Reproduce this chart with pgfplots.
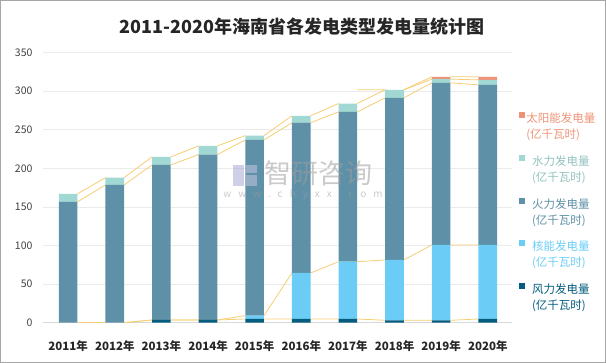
\documentclass[border=0pt]{standalone}
\usepackage{fontspec}
\setmainfont{Noto Sans CJK SC}
\usepackage{pgfplots}
\pgfplotsset{compat=1.18}
\definecolor{cwind}{HTML}{045C7E}
\definecolor{cnuc}{HTML}{6BCDF5}
\definecolor{ctherm}{HTML}{5E90A7}
\definecolor{chydro}{HTML}{A1D8D3}
\definecolor{csolar}{HTML}{EE9377}
\definecolor{yel}{HTML}{F6CD72}
\definecolor{gridgray}{HTML}{EBEBEB}
\definecolor{axisgray}{HTML}{D9D9D9}
\definecolor{ylab}{HTML}{404040}
\definecolor{xlab}{HTML}{262626}
\definecolor{wm}{HTML}{9E9E9E}
\begin{document}
\begin{tikzpicture}
\begin{axis}[at={(0,0)}, anchor=south west, scale only axis,
  width=469pt, height=270.2pt,
  xmin=-0.54, xmax=9.52, ymin=0, ymax=350,
  ytick={0,50,...,350}, xtick={0,...,9},
  xticklabels={2011年,2012年,2013年,2014年,2015年,2016年,2017年,2018年,2019年,2020年},
  axis x line*=bottom, axis y line*=left,
  y axis line style={draw=none},
  x axis line style={draw=axisgray, line width=0.8pt},
  ymajorgrids, grid style={gridgray, line width=0.6pt},
  major tick length=0pt, tick style={draw=none},
  unbounded coords=jump,
  /pgf/number format/assume math mode=true,
  yticklabel style={font=\fontsize{10.5}{10.5}\selectfont, text=ylab, anchor=east, xshift=-7pt},
  xticklabel style={font=\bfseries\fontsize{11.5}{11.5}\selectfont, text=xlab, anchor=base, yshift=-28pt},
]
% series lines (cumulative tops)
\addplot[yel, line width=0.8pt] coordinates {(0.2,0)(0.8,0) (1,nan) (1.2,0)(1.8,3.5) (2,nan) (2.2,3.5)(2.8,3.5) (3,nan) (3.2,3.5)(3.8,4.8) (4,nan) (4.2,4.8)(4.8,4.8) (5,nan) (5.2,4.8)(5.8,4.8) (6,nan) (6.2,4.8)(6.8,3.1) (7,nan) (7.2,3.1)(7.8,3.1) (8,nan) (8.2,3.1)(8.8,4.8)};
\addplot[yel, line width=0.8pt] coordinates {(0.2,0)(0.8,0) (1,nan) (1.2,0)(1.8,3.5) (2,nan) (2.2,3.5)(2.8,3.5) (3,nan) (3.2,3.5)(3.8,9.1) (4,nan) (4.2,9.1)(4.8,64.4) (5,nan) (5.2,64.4)(5.8,79.0) (6,nan) (6.2,79.0)(6.8,81.3) (7,nan) (7.2,81.3)(7.8,100.7) (8,nan) (8.2,100.7)(8.8,100.7)};
\addplot[yel, line width=0.8pt] coordinates {(0.2,156.5)(0.8,178.5) (1,nan) (1.2,178.5)(1.8,204.4) (2,nan) (2.2,204.4)(2.8,217.8) (3,nan) (3.2,217.8)(3.8,236.8) (4,nan) (4.2,236.8)(4.8,259.0) (5,nan) (5.2,259.0)(5.8,273.1) (6,nan) (6.2,273.1)(6.8,291.3) (7,nan) (7.2,291.3)(7.8,310.7) (8,nan) (8.2,310.7)(8.8,308.1)};
\addplot[yel, line width=0.8pt] coordinates {(0.2,166.8)(0.8,188.0) (1,nan) (1.2,188.0)(1.8,214.8) (2,nan) (2.2,214.8)(2.8,229.0) (3,nan) (3.2,229.0)(3.8,242.4) (4,nan) (4.2,242.4)(4.8,268.0) (5,nan) (5.2,268.0)(5.8,283.9) (6,nan) (6.2,283.9)(6.8,301.7) (7,nan) (7.2,301.7)(7.8,315.5) (8,nan) (8.2,315.5)(8.8,314.5)};
\addplot[yel, line width=0.8pt] coordinates {(6.2,301.7)(6.8,301.7) (7,nan) (7.2,301.7)(7.8,318.5) (8,nan) (8.2,318.5)(8.8,318.5)};
\end{axis}
\begin{axis}[at={(0,0)}, anchor=south west, scale only axis,
  width=469pt, height=270.2pt,
  xmin=-0.54, xmax=9.52, ymin=0, ymax=350,
  hide axis, ybar stacked, bar width=0.4,
  reverse legend,
  legend style={at={(axis description cs:1.014,0.788)}, anchor=north west, draw=none, fill=none,
    inner sep=0pt, row sep=27pt, font=\fontsize{11.5}{16}\selectfont,
    nodes={inner sep=1.5pt}},
  legend image code/.code={\fill[#1] (0pt,-0.5pt) rectangle (6pt,5.5pt);},
]
\addplot[fill=cwind, draw=none] coordinates {(0,0)(1,0)(2,3.5)(3,3.5)(4,4.8)(5,4.8)(6,4.8)(7,3.1)(8,3.1)(9,4.8)};
\addlegendentry{\textcolor{cwind}{\begin{tabular}[t]{@{}l@{}}风力发电量\\(亿千瓦时)\end{tabular}}}
\addplot[fill=cnuc, draw=none] coordinates {(0,0)(1,0)(2,0)(3,0)(4,4.3)(5,59.6)(6,74.2)(7,78.2)(8,97.6)(9,95.9)};
\addlegendentry{\textcolor{cnuc}{\begin{tabular}[t]{@{}l@{}}核能发电量\\(亿千瓦时)\end{tabular}}}
\addplot[fill=ctherm, draw=none] coordinates {(0,156.5)(1,178.5)(2,200.9)(3,214.3)(4,227.7)(5,194.6)(6,194.1)(7,210.0)(8,210.0)(9,207.4)};
\addlegendentry{\textcolor{ctherm}{\begin{tabular}[t]{@{}l@{}}火力发电量\\(亿千瓦时)\end{tabular}}}
\addplot[fill=chydro, draw=none] coordinates {(0,10.3)(1,9.5)(2,10.4)(3,11.2)(4,5.6)(5,9.0)(6,10.8)(7,10.4)(8,4.8)(9,6.4)};
\addlegendentry{\textcolor{chydro!90!black}{\begin{tabular}[t]{@{}l@{}}水力发电量\\(亿千瓦时)\end{tabular}}}
\addplot[fill=csolar, draw=none] coordinates {(0,0)(1,0)(2,0)(3,0)(4,0)(5,0)(6,0)(7,0)(8,3.0)(9,4.0)};
\addlegendentry{\textcolor{csolar}{\begin{tabular}[t]{@{}l@{}}太阳能发电量\\(亿千瓦时)\end{tabular}}}
\end{axis}
% watermark
\begin{scope}[opacity=0.55]
\fill[wm!70!blue!60] (190pt,137pt) rectangle (201pt,158pt);
\fill[wm!70!blue!40] (203pt,137pt) rectangle (214pt,148pt);
\fill[wm!70!blue!40] (203pt,150pt) rectangle (214pt,158pt);
\node[text=wm, font=\fontsize{27}{27}\selectfont, anchor=west, inner sep=0pt] at (221pt,149.5pt) {智研咨询};
\node[text=wm, font=\fontsize{10}{10}\selectfont\addfontfeature{LetterSpace=70}, inner sep=0pt] at (260pt,128.5pt) {www.chyxx.com};
\end{scope}
\node[font=\bfseries\fontsize{18}{18}\selectfont, text=xlab] at (259pt,295.7pt) {2011-2020年海南省各发电类型发电量统计图};
\pgfresetboundingbox
\useasboundingbox (-43pt,-40.3pt) rectangle (563pt,322.7pt);
\draw[gray!70, line width=1.5pt] (-43pt,-40.3pt) rectangle (563pt,322.7pt);
\end{tikzpicture}
\end{document}
